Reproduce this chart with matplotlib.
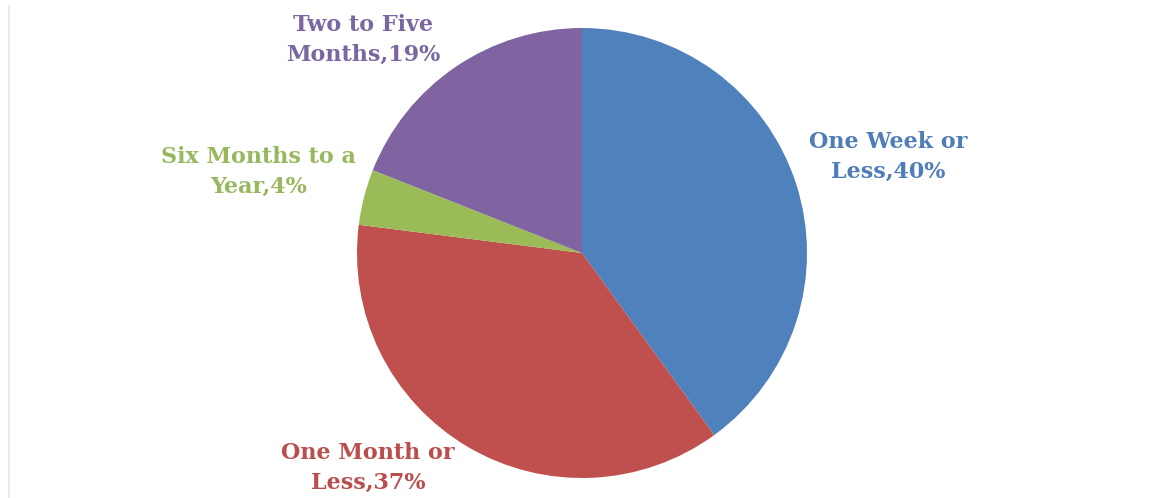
import matplotlib.pyplot as plt
from matplotlib.lines import Line2D

# data
categories = ["One Week or\nLess", "One Month or\nLess", "Six Months to a\nYear", "Two to Five\nMonths"]
shares = [40, 37, 4, 19]
colors = ["#4F81BD", "#C0504D", "#9BBB59", "#8064A2"]
text_colors = ["#4F7DB8", "#BA4E4C", "#98B860", "#7A66A0"]

W, H = 1149, 498
fig = plt.figure(figsize=(W / 100, H / 100), dpi=100)
ax = fig.add_axes([0, 0, 1, 1])

ax.pie(shares, colors=colors, startangle=90, counterclock=False,
       center=(582, H - 253), radius=225, wedgeprops=dict(linewidth=0))

ax.set_xlim(0, W)
ax.set_ylim(0, H)
ax.set_aspect("equal")
ax.axis("off")

# label positions (pixel centre of each label block)
label_pos = [(888, 157), (368, 468), (258, 172), (363, 40)]
for cat, val, tc, (px, py) in zip(categories, shares, text_colors, label_pos):
    ax.text(px, H - py, f"{cat},{val}%", ha="center", va="center",
            fontsize=16, fontweight="bold", family="DejaVu Serif",
            color=tc, linespacing=1.45)

# faint frame edge on the left
fig.add_artist(Line2D([8.5 / W, 8.5 / W], [0, 1 - 6 / H], transform=fig.transFigure,
                      color="#e6e6e6", linewidth=1.2))

fig.savefig("out.png", dpi=100)
